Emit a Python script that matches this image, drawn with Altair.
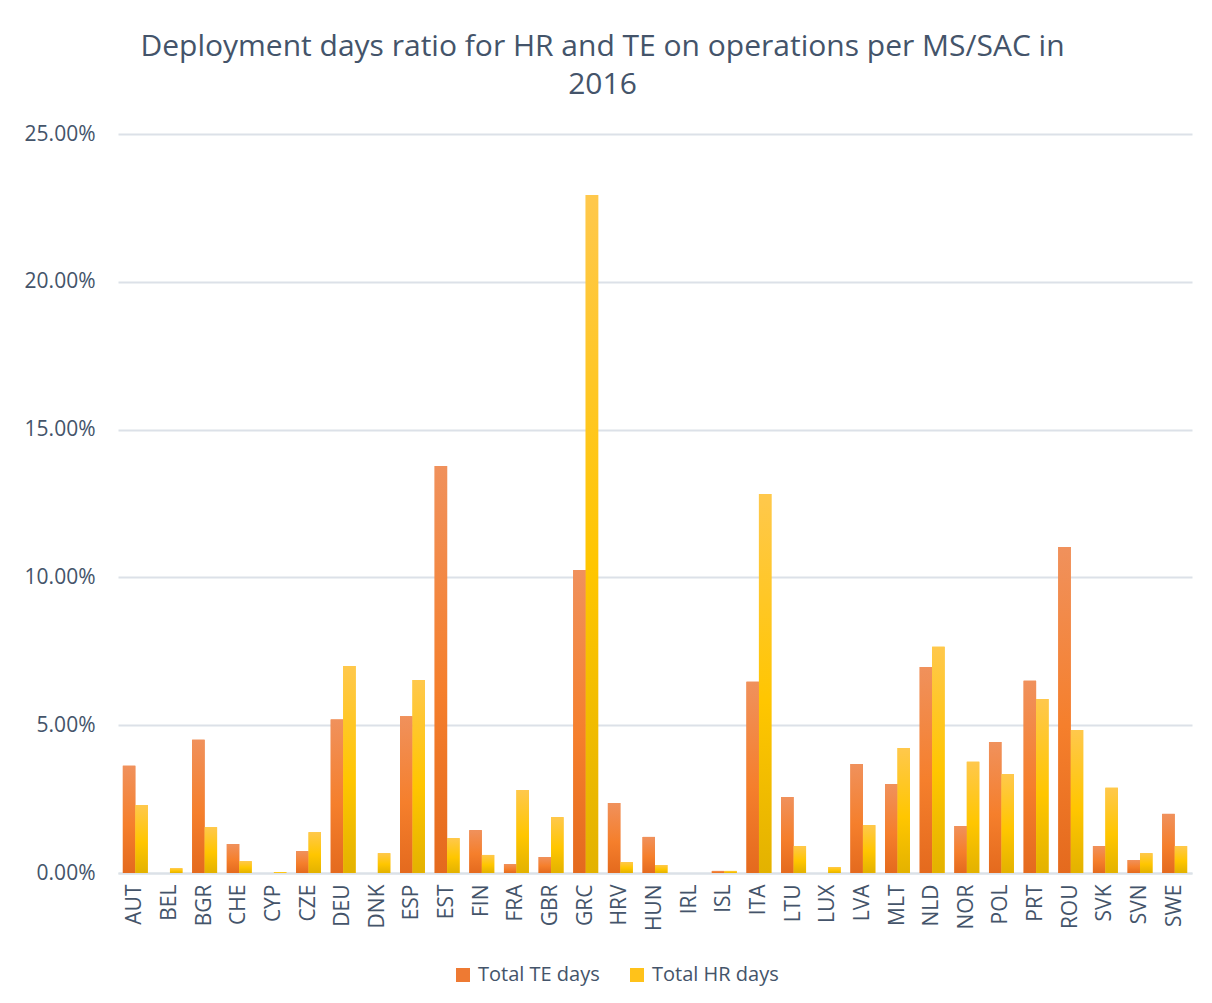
import altair as alt
import pandas as pd

countries = ["AUT", "BEL", "BGR", "CHE", "CYP", "CZE", "DEU", "DNK", "ESP", "EST",
             "FIN", "FRA", "GBR", "GRC", "HRV", "HUN", "IRL", "ISL", "ITA", "LTU",
             "LUX", "LVA", "MLT", "NLD", "NOR", "POL", "PRT", "ROU", "SVK", "SVN", "SWE"]
te_days = [3.63, 0.0, 4.51, 0.98, 0.0, 0.74, 5.19, 0.0, 5.30, 13.77,
           1.45, 0.30, 0.54, 10.25, 2.37, 1.22, 0.0, 0.07, 6.47, 2.57,
           0.0, 3.69, 3.01, 6.97, 1.59, 4.43, 6.50, 11.03, 0.91, 0.44, 2.00]
hr_days = [2.30, 0.16, 1.55, 0.40, 0.03, 1.38, 7.00, 0.67, 6.53, 1.18,
           0.61, 2.81, 1.89, 22.94, 0.37, 0.27, 0.0, 0.07, 12.82, 0.91,
           0.20, 1.62, 4.23, 7.65, 3.76, 3.35, 5.89, 4.84, 2.88, 0.67, 0.91]
series = ["Total TE days", "Total HR days"]
y_ticks = [0.0, 0.05, 0.10, 0.15, 0.20, 0.25]

rows = []
for c, t, h in zip(countries, te_days, hr_days):
    rows.append({"country": c, "series": series[0], "value": t / 100})
    rows.append({"country": c, "series": series[1], "value": h / 100})
df = pd.DataFrame(rows)

TEXT = "#44546A"
GRID = "#DCE1E8"
FONT = "Open Sans"

base = alt.Chart(df).encode(
    x=alt.X("country:N", sort=countries, title=None,
            scale=alt.Scale(paddingInner=0.28, paddingOuter=0.14),
            axis=alt.Axis(labelAngle=-90, labelFontSize=21, labelColor=TEXT, labelFont=FONT,
                          labelPadding=11, ticks=False, domainColor=GRID, domainWidth=2)),
    xOffset=alt.XOffset("series:N", sort=series),
    y=alt.Y("value:Q", title=None,
            scale=alt.Scale(domain=[0, 0.25], nice=False),
            axis=alt.Axis(values=y_ticks, format=".2%", labelFontSize=21, labelColor=TEXT,
                          labelFont=FONT, labelPadding=23, ticks=False, domain=False,
                          gridColor=GRID, gridWidth=2, minExtent=105, maxExtent=105)),
)

solid = base.mark_bar().encode(
    color=alt.Color("series:N", sort=series,
                    scale=alt.Scale(domain=series, range=["#EE7A33", "#FFC21A"]),
                    legend=alt.Legend(orient="none", legendX=335, legendY=831,
                                      title=None, direction="horizontal",
                                      symbolType="square", symbolSize=196, symbolStrokeWidth=0,
                                      labelFontSize=20, labelColor=TEXT, labelFont=FONT,
                                      columnPadding=27, labelOffset=5))
)

te_grad = alt.Gradient(
    gradient="linear", x1=0, x2=0, y1=0, y2=1,
    stops=[alt.GradientStop(color="#F0915C", offset=0),
           alt.GradientStop(color="#F57F2C", offset=0.55),
           alt.GradientStop(color="#E46A1E", offset=1)])
hr_grad = alt.Gradient(
    gradient="linear", x1=0, x2=0, y1=0, y2=1,
    stops=[alt.GradientStop(color="#FFC84C", offset=0),
           alt.GradientStop(color="#FFC600", offset=0.55),
           alt.GradientStop(color="#E3B200", offset=1)])

te_layer = base.transform_filter(alt.datum.series == series[0]).mark_bar(fill=te_grad)
hr_layer = base.transform_filter(alt.datum.series == series[1]).mark_bar(fill=hr_grad)

chart = alt.layer(solid, te_layer, hr_layer).properties(
    width=1074, height=739,
    padding={"left": 5, "top": 24, "right": 5, "bottom": 5},
    title=alt.TitleParams(
        text=["Deployment days ratio for HR and TE on operations per MS/SAC in", "2016"],
        fontSize=30, font=FONT, fontWeight="normal", color=TEXT, lineHeight=38,
        anchor="middle", frame="bounds", offset=23),
).configure(background="white").configure_view(stroke=None)

chart.save("out.html", embed_options={"renderer": "svg", "actions": False})
